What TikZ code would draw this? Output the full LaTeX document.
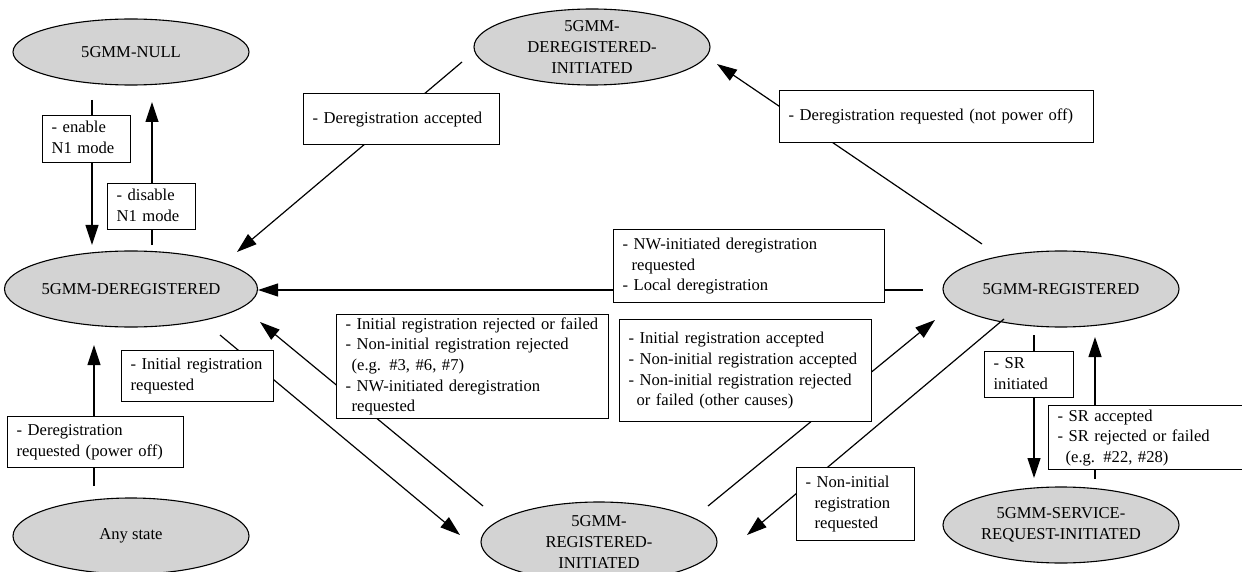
\documentclass[tikz,border=0pt]{standalone}
\usepackage{fontspec}
\setmainfont{Liberation Serif}
\usetikzlibrary{shapes.geometric,arrows.meta}
\definecolor{stategray}{HTML}{D3D3D3}
\newcommand\lbltext[1]{\begin{tabular}{@{}l@{}}#1\end{tabular}}
\begin{document}
\begin{tikzpicture}[x=1pt,y=-1pt,
  font=\fontsize{16.6}{20.7}\selectfont,
  state/.style={ellipse, draw, line width=1.1pt, fill=stategray, minimum width=236pt, inner sep=0pt, align=center},
  lbl/.style={draw, fill=white, line width=1.2pt, anchor=north west, inner xsep=9pt, inner ysep=0pt, align=left},
  trans/.style={line width=1.2pt, -{Triangle[length=20pt,width=13pt]}}]
\useasboundingbox (0,0) rectangle (1242,572);
% states
\node[state, minimum height=66pt] (null) at (131,52) {5GMM-NULL};
\node[state, minimum height=76pt] (dereg) at (131,289) {5GMM-DEREGISTERED};
\node[state, minimum height=76pt] (dereginit) at (592,47) {5GMM-\\DEREGISTERED-\\INITIATED};
\node[state, minimum height=76pt] (reg) at (1061,289) {5GMM-REGISTERED};
\node[state, minimum height=80pt] (reginit) at (599,542) {5GMM-\\REGISTERED-\\INITIATED};
\node[state, minimum height=76pt] (srinit) at (1061,525) {5GMM-SERVICE-\\REQUEST-INITIATED};
\node[state, minimum height=76pt] (any) at (131,536) {Any state};
% connector ends
\coordinate (e1s) at (92,100);   \coordinate (e1t) at (92,245);
\coordinate (e2s) at (152,245);  \coordinate (e2t) at (152,102);
\coordinate (e3s) at (462,62);   \coordinate (e3t) at (237,252);
\coordinate (e4s) at (982,244);  \coordinate (e4t) at (717,64);
\coordinate (e5s) at (923,290);  \coordinate (e5t) at (258,290);
\coordinate (e6s) at (220,335);  \coordinate (e6t) at (460,535);
\coordinate (e7s) at (483,506);  \coordinate (e7t) at (260,322);
\coordinate (e8s) at (708,506);  \coordinate (e8t) at (935,320);
\coordinate (e9s) at (1004,319); \coordinate (e9t) at (747,535);
\coordinate (e10s) at (1034,335); \coordinate (e10t) at (1034,478);
\coordinate (e11s) at (1095,479); \coordinate (e11t) at (1095,337);
\coordinate (e12s) at (94,486);  \coordinate (e12t) at (94,345);
% connectors
\draw[trans] (e1s) -- (e1t);
\draw[trans] (e2s) -- (e2t);
\draw[trans] (e3s) -- (e3t);
\draw[trans] (e4s) -- (e4t);
\draw[trans] (e5s) -- (e5t);
\draw[trans] (e6s) -- (e6t);
\draw[trans] (e7s) -- (e7t);
\draw[trans] (e8s) -- (e8t);
\draw[trans] (e9s) -- (e9t);
\draw[trans] (e10s) -- (e10t);
\draw[trans] (e11s) -- (e11t);
\draw[trans] (e12s) -- (e12t);
% labels
\node[lbl, text width=70pt, minimum height=47pt] (l1) at (42,115) {\lbltext{- enable\\N1 mode}};
\node[lbl, text width=70pt, minimum height=46pt] (l2) at (107,183) {\lbltext{- disable\\N1 mode}};
\node[lbl, text width=178pt, minimum height=51pt] (l3) at (303,93) {\lbltext{- Deregistration accepted}};
\node[lbl, text width=296pt, minimum height=52pt] (l4) at (779,90) {\lbltext{- Deregistration requested (not power off)}};
\node[lbl, text width=253pt, minimum height=73pt] (l5) at (613,229) {\lbltext{- NW-initiated deregistration\\\hspace*{9pt}requested\\- Local deregistration}};
\node[lbl, text width=134pt, minimum height=51pt] (l6) at (121,350) {\lbltext{- Initial registration\\requested}};
\node[lbl, text width=254pt, minimum height=103pt] (l7) at (336,314) {\lbltext{- Initial registration rejected or failed\\- Non-initial registration rejected\\\hspace*{6pt}(e.g. \#3, \#6, \#7)\\- NW-initiated deregistration\\\hspace*{6pt}requested}};
\node[lbl, text width=234pt, minimum height=102pt] (l8) at (619,319) {\lbltext{- Initial registration accepted\\- Non-initial registration accepted\\- Non-initial registration rejected\\\hspace*{8pt}or failed (other causes)}};
\node[lbl, text width=100pt, minimum height=73pt] (l9) at (796,467) {\lbltext{- Non-initial\\\hspace*{9pt}registration\\\hspace*{9pt}requested}};
\node[lbl, text width=71pt, minimum height=46pt] (l10) at (984,351) {\lbltext{- SR\\initiated}};
\node[lbl, text width=186pt, minimum height=64pt] (l11) at (1048,405) {\lbltext{- SR accepted\\- SR rejected or failed\\\hspace*{8pt}(e.g. \#22, \#28)}};
\node[lbl, text width=158pt, minimum height=51pt] (l12) at (7,416) {\lbltext{- Deregistration\\requested (power off)}};
\end{tikzpicture}
\end{document}
